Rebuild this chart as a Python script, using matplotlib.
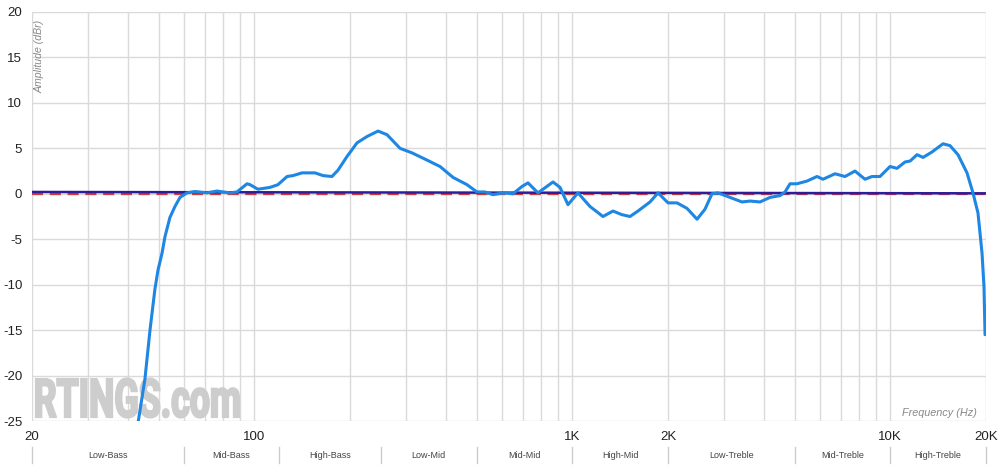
import matplotlib
matplotlib.use('Agg')
import matplotlib.pyplot as plt
from matplotlib.textpath import TextPath
from matplotlib.patches import PathPatch
from matplotlib.font_manager import FontProperties
from matplotlib.transforms import Affine2D
from matplotlib.ticker import FixedLocator, NullFormatter

plt.rcParams['font.family'] = ['Liberation Sans', 'DejaVu Sans']
plt.rcParams['axes.unicode_minus'] = False

# frequency response (Hz, dBr)
freq = [43.1, 45.3, 47.0, 48.7, 49.8, 51.3, 52.4, 54.3, 56.3, 58.4, 61.4, 65.1,
        71.0, 76.3, 83.9, 88.2, 94.9, 97.0, 102.7, 112, 118.7, 126.8, 132.4,
        141.3, 155.2, 164.5, 175.5, 183.4, 195.7, 210.4, 226.2, 245, 261.5,
        287.3, 313.4, 349.5, 383.8, 421.8, 466.7, 501.5, 531.6, 563.4, 605.5,
        651, 694.8, 725.6, 780.2, 869.8, 915, 969.4, 1042, 1137, 1249, 1343,
        1433, 1519, 1609, 1756, 1861, 2000, 2135, 2294, 2468, 2614, 2750,
        2872, 3133, 3418, 3622, 3894, 4187, 4501, 4668, 4839, 5089, 5472,
        5883, 6145, 6702, 7205, 7744, 8327, 8760, 9284, 9982, 10500, 11130,
        11540, 12140, 12680, 13530, 14650, 15410, 16330, 17430, 18200, 18870,
        19430, 19710, 19860]
db = [-25.2, -20.4, -15.0, -10.5, -8.4, -6.5, -4.7, -2.6, -1.4, -0.4, 0.1, 0.25,
      0.1, 0.3, 0.1, 0.2, 1.1, 1.0, 0.5, 0.7, 1.0, 1.9, 2.0,
      2.3, 2.3, 2.0, 1.9, 2.6, 4.1, 5.6, 6.3, 6.9, 6.5,
      5.0, 4.5, 3.7, 3.0, 1.8, 1.0, 0.2, 0.2, -0.1, 0.1,
      0.0, 0.8, 1.2, 0.1, 1.3, 0.7, -1.2, 0.1, -1.4, -2.5, -1.9,
      -2.3, -2.5, -1.9, -0.9, 0.1, -1.0, -1.0, -1.6, -2.8, -1.7, 0.0,
      0.1, -0.4, -0.9, -0.8, -0.9, -0.4, -0.2, 0.2, 1.1, 1.1, 1.4,
      1.9, 1.6, 2.2, 1.9, 2.5, 1.6, 1.9, 1.9, 3.0, 2.8, 3.5,
      3.6, 4.3, 4.0, 4.6, 5.5, 5.3, 4.3, 2.3, 0.1, -2.1,
      -6.5, -10.2, -15.5]

# target curve and 0 dB reference
target_freq = [20, 20000]
target_db = [0.2, 0.05]
ref_freq = [20, 20000]
ref_db = [0, 0]

band_edges = [20, 60, 120, 250, 500, 1000, 2000, 5000, 10000, 20000]
band_names = ['Low-Bass', 'Mid-Bass', 'High-Bass', 'Low-Mid', 'Mid-Mid',
              'High-Mid', 'Low-Treble', 'Mid-Treble', 'High-Treble']

xticks = [20, 100, 1000, 2000, 10000, 20000]
xlabels = ['20', '100', '1K', '2K', '10K', '20K']
yticks = [-25, -20, -15, -10, -5, 0, 5, 10, 15, 20]

# log grid: 20..90, 100..900, ...
grid_x = [k * 10 ** d for d in range(1, 5) for k in range(1, 10)
          if 20 <= k * 10 ** d <= 20000]

W, H = 1000, 474
fig = plt.figure(figsize=(W / 100, H / 100), dpi=100)
ax = fig.add_axes([32 / W, 1 - 421 / H, 954 / W, 409 / H])

ax.set_xscale('log')
ax.set_xlim(20, 20000)
ax.set_ylim(-25, 20)
ax.xaxis.set_major_locator(FixedLocator(xticks))
ax.set_xticklabels(xlabels)
ax.xaxis.set_minor_locator(FixedLocator(grid_x))
ax.xaxis.set_minor_formatter(NullFormatter())
ax.set_yticks(yticks)
ax.grid(which='both', color='#dadada', lw=1.0)
ax.set_axisbelow(True)
ax.tick_params(which='both', length=0)
ax.tick_params(axis='x', pad=7, labelsize=9.5, colors='#222222')
ax.tick_params(axis='y', pad=7, labelsize=9.5, colors='#222222')
for s in ax.spines.values():
    s.set_visible(False)

# watermark
prop = FontProperties(family='Roboto', weight='bold')
tp = TextPath((0, 0), 'RTINGS.com', size=1, prop=prop)
ext = tp.get_extents()
tr = (Affine2D().translate(-ext.x0, -ext.y0)
      .scale(203 / ext.width / W, 39 / ext.height / H)
      .translate(36 / W, 56.5 / H) + fig.transFigure)
wm = PathPatch(tp, transform=tr, facecolor='#cdcdcd', edgecolor='#cdcdcd',
               lw=1.6, zorder=1.5)
ax.add_artist(wm)

ax.plot(ref_freq, ref_db, color='#d23b3b', lw=1.6, ls=(0, (5, 3)), zorder=3)
ax.plot(target_freq, target_db, color='#2b1d9c', lw=1.8, zorder=4)
ax.plot(freq, db, color='#1e86e3', lw=2.2, zorder=5,
        solid_joinstyle='round', solid_capstyle='round')

ax.text(8 / 954, 0.98, 'Amplitude (dBr)', transform=ax.transAxes, rotation=90,
        ha='center', va='top', style='italic', color='#888888', fontsize=7.6)
ax.text(945 / 954, 8 / 409, 'Frequency (Hz)', transform=ax.transAxes,
        ha='right', va='center', style='italic', color='#888888', fontsize=7.8)

# frequency band row under the axis
xt = ax.get_xaxis_transform()
for e in band_edges:
    ax.plot([e, e], [-26 / 409, -42 / 409], transform=xt, color='#cccccc',
            lw=1, clip_on=False)
for a, b, name in zip(band_edges[:-1], band_edges[1:], band_names):
    ax.text((a * b) ** 0.5, -35 / 409, name, transform=xt, ha='center',
            va='center', fontsize=6.5, color='#444444')

fig.savefig('out.png', dpi=100)
